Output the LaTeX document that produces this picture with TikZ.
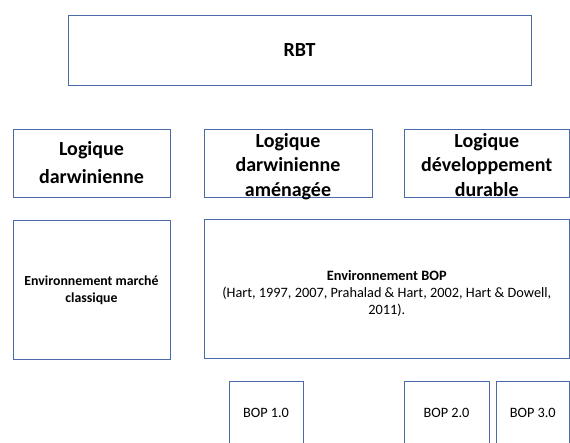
\documentclass[tikz,border=0pt]{standalone}
\usepackage{fontspec}
\setmainfont{Carlito}
\definecolor{boxline}{HTML}{4A6BA8}
\tikzset{
  box/.style={draw=boxline, line width=0.8pt, inner sep=2pt, align=center, text=black},
  big/.style={font=\fontsize{20}{24.5}\selectfont\bfseries},
  small/.style={font=\fontsize{14.3}{17}\selectfont},
}
\begin{document}
\begin{tikzpicture}[x=1pt,y=-1pt]
\useasboundingbox (0,0) rectangle (570,443);
\clip (0,0) rectangle (570,443);
\node[box, big, minimum width=463pt, minimum height=70pt] (rbt) at (299.5,50) {RBT};
\node[box, big, font=\fontsize{20}{28}\selectfont\bfseries, minimum width=157pt, minimum height=68pt] (la) at (91.5,163) {Logique\\darwinienne};
\node[box, minimum width=168pt, minimum height=68pt,
  label={[big, align=center, yshift=-3.5pt]center:Logique\\darwinienne\\aménagée}] (lb) at (288,163) {};
\node[box, minimum width=165pt, minimum height=68pt,
  label={[big, align=center, yshift=-2pt]center:Logique\\développement\\durable}] (lc) at (486.75,163) {};
\node[box, font=\fontsize{13.8}{16.5}\selectfont\bfseries, minimum width=157pt, minimum height=139pt] (ea) at (91.5,290) {Environnement marché\\classique};
\node[box, minimum width=365.5pt, minimum height=139pt,
  label={[small, align=center, yshift=-5pt]center:\textbf{Environnement BOP}\\(Hart, 1997, 2007, Prahalad \& Hart, 2002, Hart \& Dowell,\\2011).}] (eb) at (386.75,288.5) {};
\node[box, small, minimum width=74pt, minimum height=64pt] (b1) at (266,413) {BOP 1.0};
\node[box, small, minimum width=85pt, minimum height=64pt] (b2) at (446.5,413) {BOP 2.0};
\node[box, small, minimum width=73.5pt, minimum height=64pt] (b3) at (532.75,413) {BOP 3.0};
\end{tikzpicture}
\end{document}
